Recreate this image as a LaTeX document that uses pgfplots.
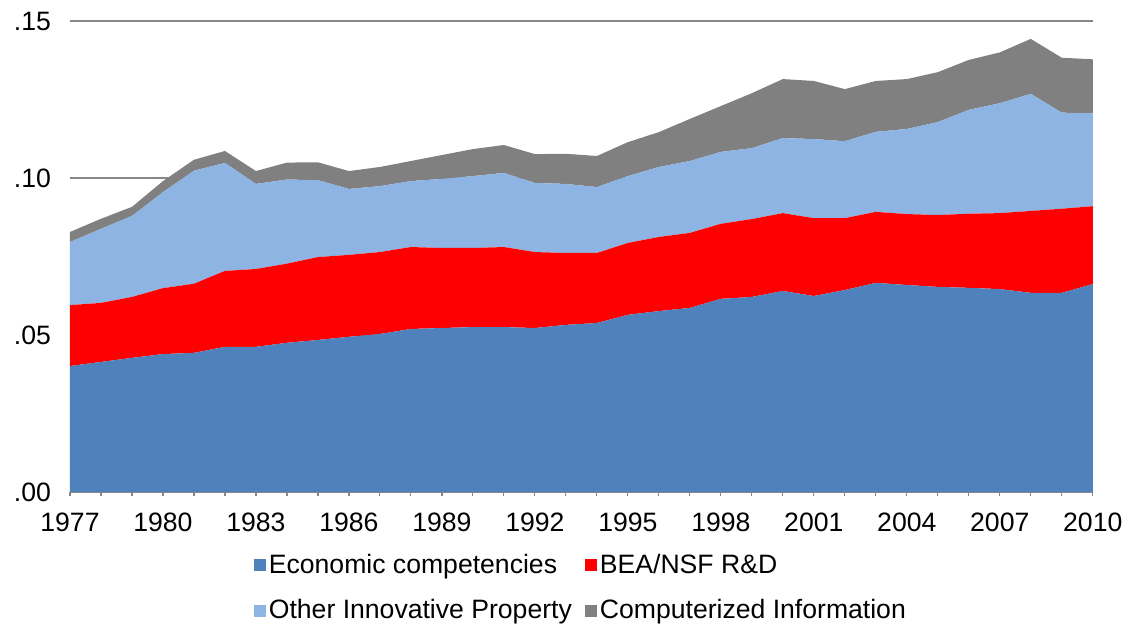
\documentclass[border=0pt]{standalone}
\usepackage{fontspec}
\setmainfont{Liberation Sans}
\usepackage{pgfplots}
\usepackage{pgfplotstable}
\pgfplotsset{compat=1.18}
\definecolor{ecblue}{HTML}{4F81BD}
\definecolor{rdred}{HTML}{FF0000}
\definecolor{oiplight}{HTML}{8EB4E3}
\definecolor{cigray}{HTML}{808080}
\definecolor{gridgray}{HTML}{878787}
\pgfplotstableread{
year ec rd oip ci
1977 .0401 .0194 .0201 .0032
1978 .0414 .0188 .0236 .0032
1979 .0427 .0194 .0258 .0029
1980 .0439 .0210 .0306 .0035
1981 .0443 .0220 .0360 .0035
1982 .0462 .0242 .0344 .0038
1983 .0462 .0248 .0271 .0041
1984 .0475 .0252 .0268 .0054
1985 .0484 .0264 .0245 .0057
1986 .0494 .0261 .0210 .0057
1987 .0503 .0261 .0210 .0061
1988 .0519 .0261 .0210 .0064
1989 .0522 .0255 .0220 .0076
1990 .0525 .0252 .0229 .0086
1991 .0525 .0255 .0236 .0089
1992 .0522 .0242 .0220 .0092
1993 .0532 .0229 .0220 .0096
1994 .0538 .0223 .0210 .0099
1995 .0564 .0229 .0213 .0108
1996 .0576 .0236 .0223 .0111
1997 .0586 .0239 .0229 .0134
1998 .0615 .0239 .0229 .0146
1999 .0621 .0248 .0226 .0175
2000 .0640 .0248 .0239 .0188
2001 .0624 .0248 .0252 .0185
2002 .0643 .0229 .0245 .0166
2003 .0666 .0226 .0255 .0162
2004 .0659 .0226 .0271 .0159
2005 .0653 .0229 .0296 .0159
2006 .0650 .0236 .0331 .0159
2007 .0646 .0242 .0350 .0162
2008 .0634 .0261 .0373 .0175
2009 .0634 .0268 .0306 .0175
2010 .0662 .0248 .0296 .0172
}\data
\begin{document}
\begin{tikzpicture}
\begin{axis}[name=ax, width=511.5pt, height=235.5pt, scale only axis,
  xmin=1977, xmax=2010, ymin=0, ymax=0.15,
  enlargelimits=false,
  stack plots=y,
  axis x line*=bottom, axis y line*=left,
  x axis line style={draw=gridgray, line width=1pt, -},
  y axis line style={draw=none},
  xtick={1977,1980,...,2010},
  xticklabels={1977,1980,1983,1986,1989,1992,1995,1998,2001,2004,2007,2010},
  minor xtick={1977,...,2010},
  ytick={0,0.05,0.1,0.15}, yticklabels={.00,.05,.10,.15},
  ymajorgrids, major grid style={draw=gridgray, line width=0.75pt},
  xtick style={draw=gridgray, line width=0.6pt},
  minor tick style={draw=gridgray, line width=0.6pt},
  tick align=outside, major tick length=2pt, minor tick length=2pt,
  ytick style={draw=none},
  tick label style={font=\fontsize{13.3}{16}\selectfont},
  yticklabel style={xshift=-4pt},
  xticklabel style={yshift=-5pt},
  legend columns=2,
  legend cell align=left,
  legend image code/.code={\fill[#1] (0pt,-3pt) rectangle (6pt,3pt);},
  legend style={at={(0.5,-0.2038)}, anchor=center, draw=none, fill=none,
    font=\fontsize{13.3}{16}\selectfont, row sep=8.5pt,
    /tikz/every even column/.append style={column sep=5pt},
    nodes={inner sep=1.5pt}},
]
\addplot[fill=ecblue, draw=none] table[x=year, y=ec] {\data} \closedcycle;
\addlegendentry{Economic competencies}
\addplot[fill=rdred, draw=none] table[x=year, y=rd] {\data} \closedcycle;
\addlegendentry{BEA/NSF R\&D}
\addplot[fill=oiplight, draw=none] table[x=year, y=oip] {\data} \closedcycle;
\addlegendentry{Other Innovative Property}
\addplot[fill=cigray, draw=none] table[x=year, y=ci] {\data} \closedcycle;
\addlegendentry{Computerized Information}
\end{axis}
\path ([shift={(-35pt,-66pt)}]ax.south west) rectangle ([shift={(18pt,10.5pt)}]ax.north east);
\end{tikzpicture}
\end{document}
